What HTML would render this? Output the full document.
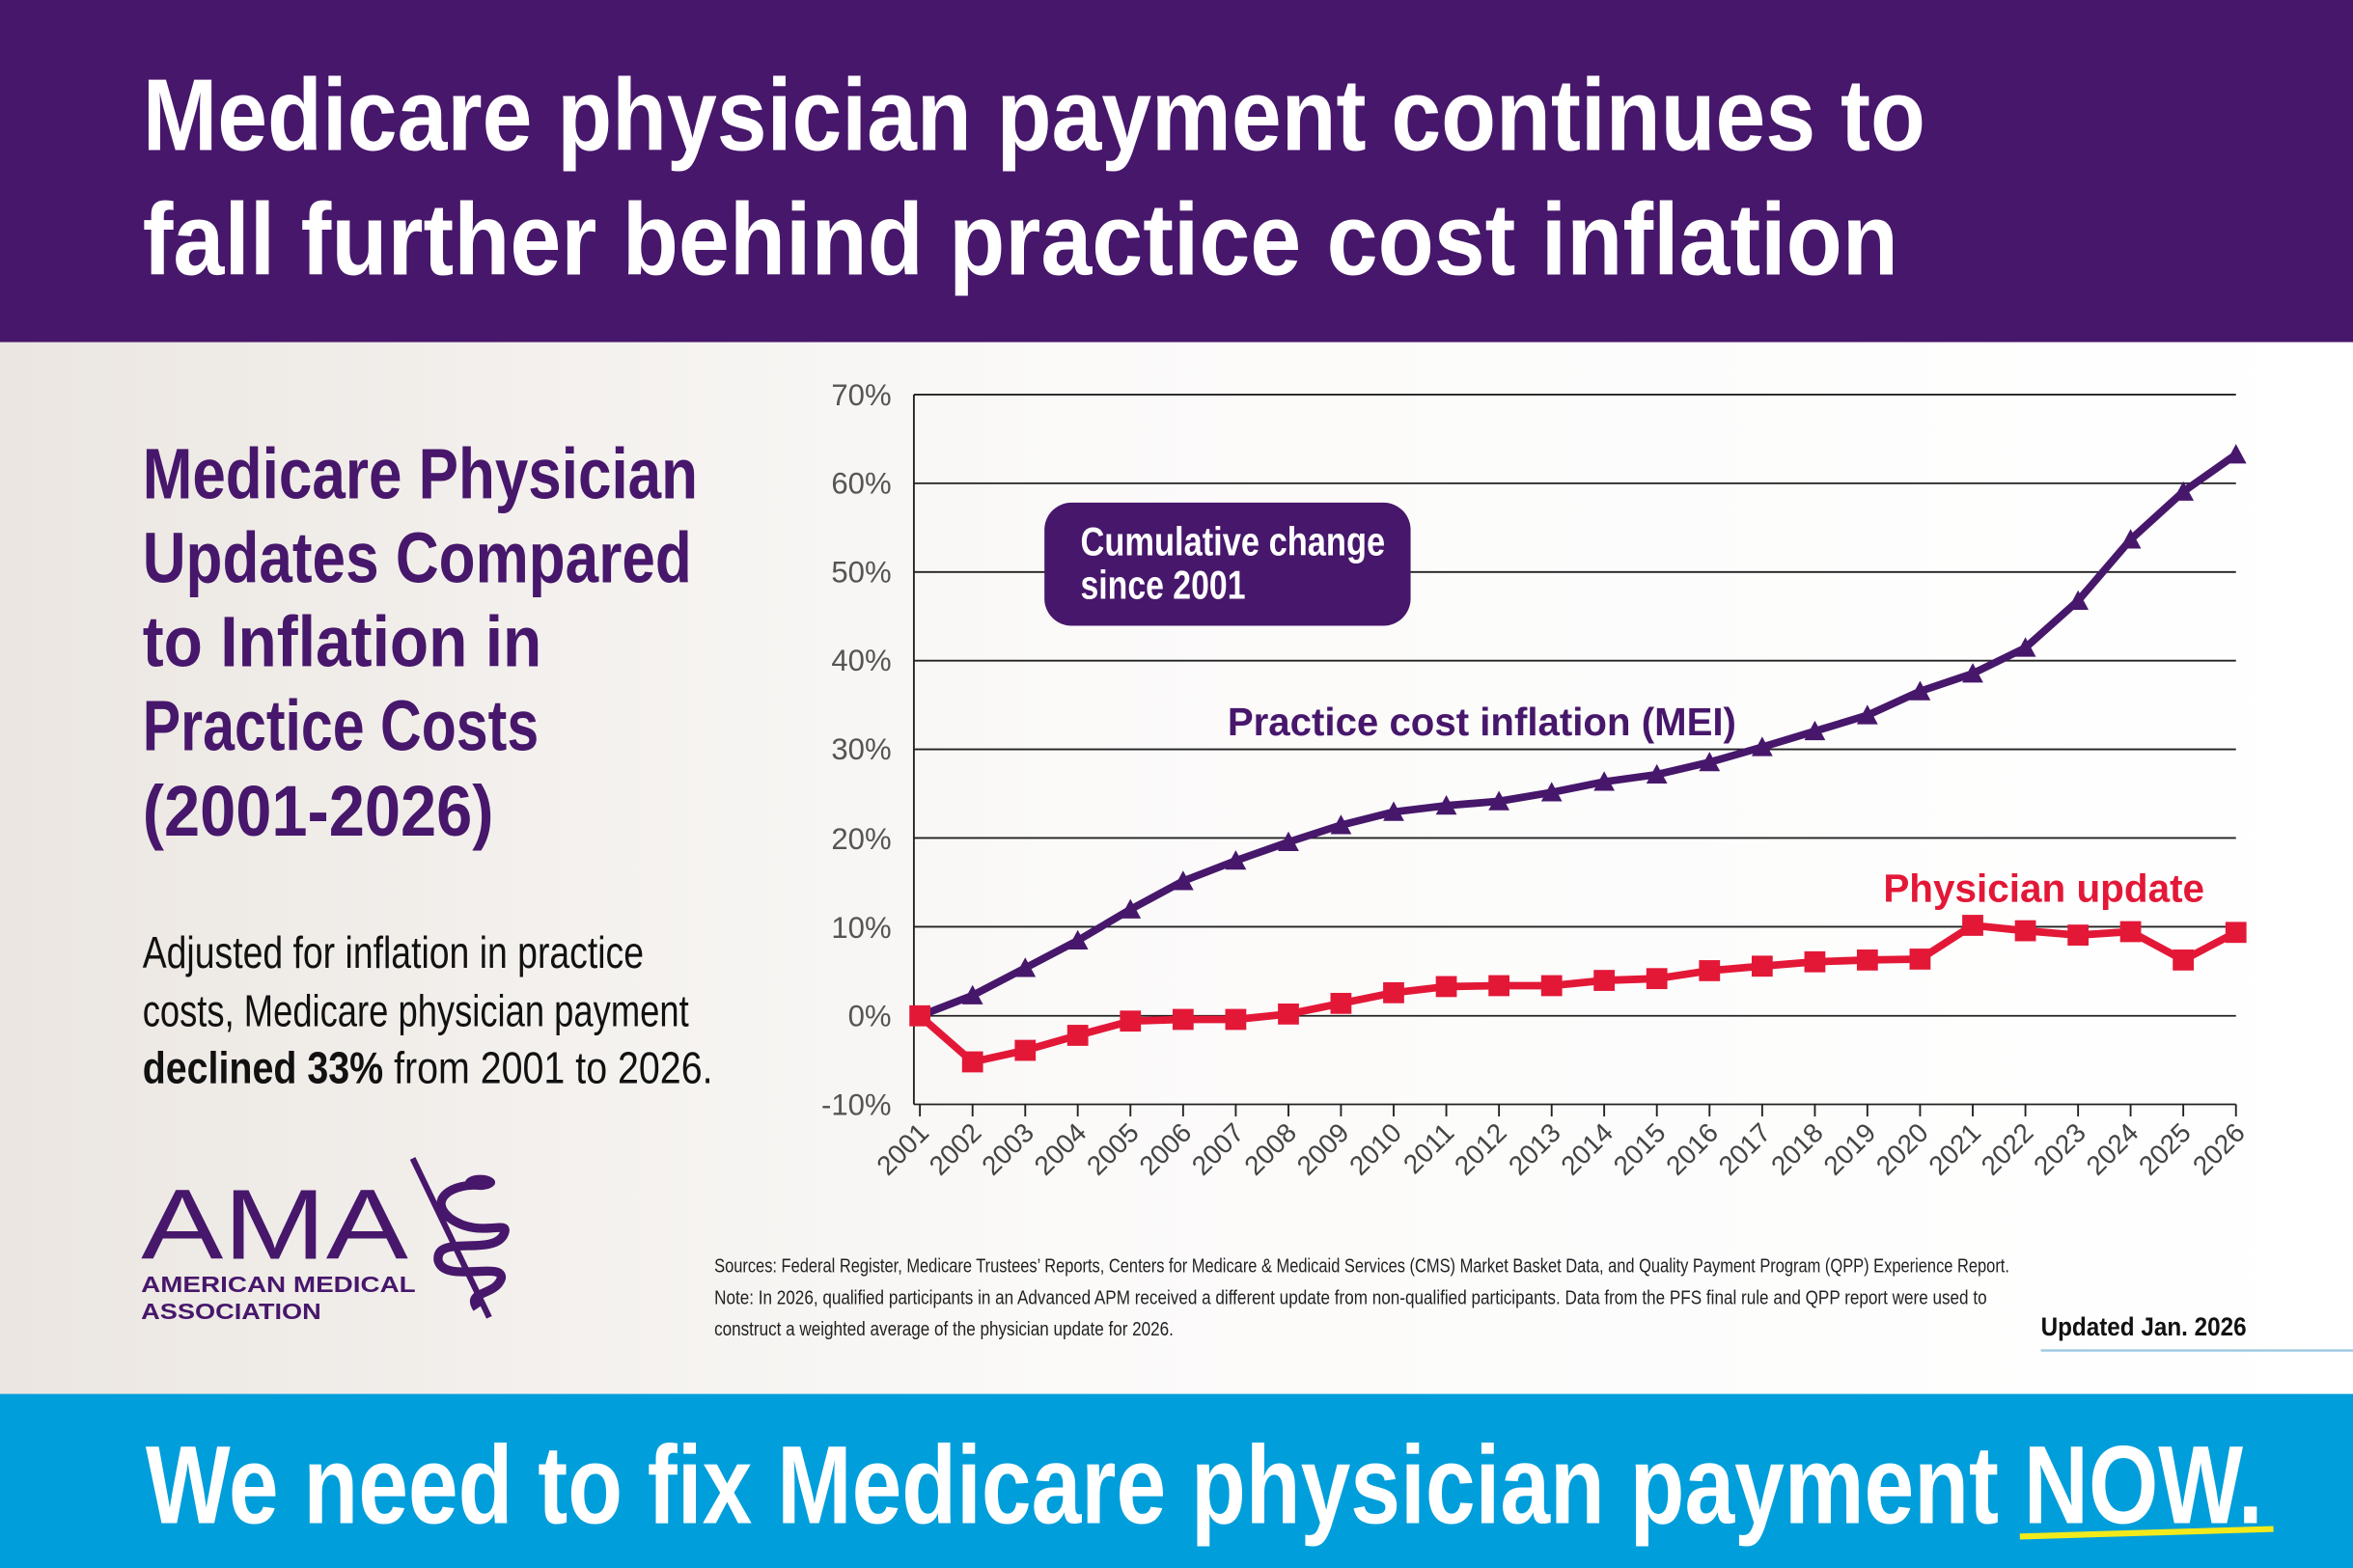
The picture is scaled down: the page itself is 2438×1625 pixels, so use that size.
<!DOCTYPE html>
<html><head><meta charset="utf-8"><style>
html,body{margin:0;padding:0;width:2438px;height:1625px;overflow:hidden;background:#fff}
svg{display:block}
text{font-family:"Liberation Sans",sans-serif}
</style></head><body>
<svg width="2438" height="1625" viewBox="0 0 1568 1045" preserveAspectRatio="none" xmlns="http://www.w3.org/2000/svg">
<defs>
<linearGradient id="bg" x1="0" y1="0" x2="1" y2="0">
<stop offset="0" stop-color="#ebe6e1"/><stop offset="0.45" stop-color="#fbfaf9"/><stop offset="1" stop-color="#ffffff"/>
</linearGradient>
<marker id="tri" markerUnits="userSpaceOnUse" markerWidth="16" markerHeight="16" refX="8" refY="8" viewBox="0 0 16 16"><path d="M8 1 L15 14 L1 14 Z" fill="#47176b"/></marker>
<marker id="sq" markerUnits="userSpaceOnUse" markerWidth="16" markerHeight="16" refX="8" refY="8" viewBox="0 0 16 16"><rect x="1" y="1" width="14" height="14" fill="#e31837"/></marker>
</defs>
<rect x="0" y="0" width="1568" height="1045" fill="url(#bg)"/>
<rect x="0" y="0" width="1568" height="228" fill="#47176b"/>
<g fill="#fff" font-weight="bold" font-size="68">
<text x="95" y="100" textLength="1188" lengthAdjust="spacingAndGlyphs">Medicare physician payment continues to</text>
<text x="95" y="183" textLength="1170" lengthAdjust="spacingAndGlyphs">fall further behind practice cost inflation</text>
</g>
<g fill="#47176b" font-weight="bold" font-size="48">
<text x="95" y="332" textLength="370" lengthAdjust="spacingAndGlyphs">Medicare Physician</text>
<text x="95" y="388" textLength="366" lengthAdjust="spacingAndGlyphs">Updates Compared</text>
<text x="95" y="444" textLength="266" lengthAdjust="spacingAndGlyphs">to Inflation in</text>
<text x="95" y="500" textLength="264" lengthAdjust="spacingAndGlyphs">Practice Costs</text>
<text x="95" y="557" textLength="234" lengthAdjust="spacingAndGlyphs">(2001-2026)</text>
</g>
<g fill="#111" font-size="30">
<text x="95" y="645" textLength="334" lengthAdjust="spacingAndGlyphs">Adjusted for inflation in practice</text>
<text x="95" y="684" textLength="364" lengthAdjust="spacingAndGlyphs">costs, Medicare physician payment</text>
<text x="95" y="722" textLength="380" lengthAdjust="spacingAndGlyphs"><tspan font-weight="bold">declined 33%</tspan> from 2001 to 2026.</text>
</g>
<text x="94" y="839" fill="#47176b" font-size="66" textLength="178" lengthAdjust="spacingAndGlyphs">AMA</text>
<text x="94" y="861" fill="#47176b" font-size="15" font-weight="bold" textLength="183" lengthAdjust="spacingAndGlyphs">AMERICAN MEDICAL</text>
<text x="94" y="879" fill="#47176b" font-size="15" font-weight="bold" textLength="120" lengthAdjust="spacingAndGlyphs">ASSOCIATION</text>
<g stroke="#47176b" fill="none" stroke-width="6">
<line x1="275" y1="772" x2="326" y2="878" stroke-width="4"/>
<path d="M322 790 C300 788 285 800 300 812 C320 826 340 812 336 822 C330 838 290 822 292 840 C296 856 336 840 334 852 C330 864 310 860 318 872"/>
</g>
<ellipse cx="320" cy="788" rx="10" ry="5" fill="#47176b"/>
<g stroke="#222" stroke-width="1.2">
<line x1="609" y1="263" x2="1490" y2="263"/>
<line x1="609" y1="322.1" x2="1490" y2="322.1"/>
<line x1="609" y1="381.2" x2="1490" y2="381.2"/>
<line x1="609" y1="440.3" x2="1490" y2="440.3"/>
<line x1="609" y1="499.4" x2="1490" y2="499.4"/>
<line x1="609" y1="558.5" x2="1490" y2="558.5"/>
<line x1="609" y1="617.6" x2="1490" y2="617.6"/>
<line x1="609" y1="677" x2="1490" y2="677"/>
<line x1="609" y1="736" x2="1490" y2="736"/>
<line x1="609" y1="263" x2="609" y2="736"/>
</g>
<g stroke="#222" stroke-width="1.2">
<path d="M613 736v8M648.1 736v8M683.2 736v8M718.2 736v8M753.3 736v8M788.4 736v8M823.5 736v8M858.6 736v8M893.6 736v8M928.7 736v8M963.8 736v8M998.9 736v8M1034 736v8M1069 736v8M1104.1 736v8M1139.2 736v8M1174.3 736v8M1209.4 736v8M1244.4 736v8M1279.5 736v8M1314.6 736v8M1349.7 736v8M1384.8 736v8M1419.8 736v8M1454.9 736v8M1490 736v8"/>
</g>
<g fill="#555" font-size="20" text-anchor="end">
<text x="594" y="270">70%</text><text x="594" y="329">60%</text><text x="594" y="388">50%</text><text x="594" y="447">40%</text><text x="594" y="506">30%</text><text x="594" y="566">20%</text><text x="594" y="625">10%</text><text x="594" y="684">0%</text><text x="594" y="743">-10%</text>
</g>
<g fill="#444" font-size="18" text-anchor="end">
<text transform="translate(620,756) rotate(-45)">2001</text>
<text transform="translate(655,756) rotate(-45)">2002</text>
<text transform="translate(690,756) rotate(-45)">2003</text>
<text transform="translate(725,756) rotate(-45)">2004</text>
<text transform="translate(760,756) rotate(-45)">2005</text>
<text transform="translate(795,756) rotate(-45)">2006</text>
<text transform="translate(830,756) rotate(-45)">2007</text>
<text transform="translate(865,756) rotate(-45)">2008</text>
<text transform="translate(900,756) rotate(-45)">2009</text>
<text transform="translate(935,756) rotate(-45)">2010</text>
<text transform="translate(970,756) rotate(-45)">2011</text>
<text transform="translate(1005,756) rotate(-45)">2012</text>
<text transform="translate(1041,756) rotate(-45)">2013</text>
<text transform="translate(1076,756) rotate(-45)">2014</text>
<text transform="translate(1111,756) rotate(-45)">2015</text>
<text transform="translate(1146,756) rotate(-45)">2016</text>
<text transform="translate(1181,756) rotate(-45)">2017</text>
<text transform="translate(1216,756) rotate(-45)">2018</text>
<text transform="translate(1251,756) rotate(-45)">2019</text>
<text transform="translate(1286,756) rotate(-45)">2020</text>
<text transform="translate(1321,756) rotate(-45)">2021</text>
<text transform="translate(1356,756) rotate(-45)">2022</text>
<text transform="translate(1391,756) rotate(-45)">2023</text>
<text transform="translate(1426,756) rotate(-45)">2024</text>
<text transform="translate(1461,756) rotate(-45)">2025</text>
<text transform="translate(1497,756) rotate(-45)">2026</text>
</g>
<polyline fill="none" stroke="#47176b" stroke-width="5" stroke-linejoin="round" marker-mid="url(#tri)" marker-end="url(#tri)"
points="613,677 648.1,663.4 683.2,645.1 718.2,626.8 753.3,606.1 788.4,587.2 823.5,573.6 858.6,561.2 893.6,549.9 928.7,541.1 963.8,536.9 998.9,534 1034,528.1 1069,521 1104.1,516.2 1139.2,508 1174.3,497.9 1209.4,487.3 1244.4,476.7 1279.5,460.7 1314.6,448.9 1349.7,431.7 1384.8,400.4 1419.8,359.6 1454.9,327.7 1490,302.9"/>
<polyline fill="none" stroke="#e31837" stroke-width="5" stroke-linejoin="round" marker-start="url(#sq)" marker-mid="url(#sq)" marker-end="url(#sq)"
points="613,677 648.1,707.7 683.2,700 718.2,690 753.3,680.5 788.4,679.4 823.5,679.4 858.6,675.8 893.6,668.7 928.7,661.6 963.8,657.5 998.9,656.9 1034,656.9 1069,653.4 1104.1,652.2 1139.2,646.9 1174.3,643.9 1209.4,641 1244.4,639.8 1279.5,639.2 1314.6,616.7 1349.7,620.3 1384.8,623.2 1419.8,620.9 1454.9,639.8 1490,621.4"/>
<rect x="696" y="335" width="244" height="82" rx="18" fill="#47176b"/>
<g fill="#fff" font-weight="bold" font-size="27">
<text x="720" y="370" textLength="203" lengthAdjust="spacingAndGlyphs">Cumulative change</text>
<text x="720" y="399" textLength="110" lengthAdjust="spacingAndGlyphs">since 2001</text>
</g>
<text x="818" y="490" fill="#47176b" font-weight="bold" font-size="26" textLength="339" lengthAdjust="spacingAndGlyphs">Practice cost inflation (MEI)</text>
<text x="1255" y="601" fill="#e31837" font-weight="bold" font-size="26" textLength="214" lengthAdjust="spacingAndGlyphs">Physician update</text>
<g fill="#222" font-size="13">
<text x="476" y="848" textLength="863" lengthAdjust="spacingAndGlyphs">Sources: Federal Register, Medicare Trustees’ Reports, Centers for Medicare &amp; Medicaid Services (CMS) Market Basket Data, and Quality Payment Program (QPP) Experience Report.</text>
<text x="476" y="869" textLength="848" lengthAdjust="spacingAndGlyphs">Note: In 2026, qualified participants in an Advanced APM received a different update from non-qualified participants. Data from the PFS final rule and QPP report were used to</text>
<text x="476" y="890" textLength="306" lengthAdjust="spacingAndGlyphs">construct a weighted average of the physician update for 2026.</text>
</g>
<text x="1360" y="890" fill="#111" font-weight="bold" font-size="17" textLength="137" lengthAdjust="spacingAndGlyphs">Updated Jan. 2026</text>
<line x1="1360" y1="900" x2="1568" y2="900" stroke="#9cc9e0" stroke-width="1.5"/>
<rect x="0" y="929" width="1568" height="116" fill="#009edb"/>
<text x="97" y="1015" fill="#fff" font-weight="bold" font-size="74" textLength="1411" lengthAdjust="spacingAndGlyphs">We need to fix Medicare physician payment NOW.</text>
<path d="M1346 1024 Q1420 1022 1515 1019" stroke="#f2ea1b" stroke-width="4" fill="none"/>
</svg>
</body></html>
